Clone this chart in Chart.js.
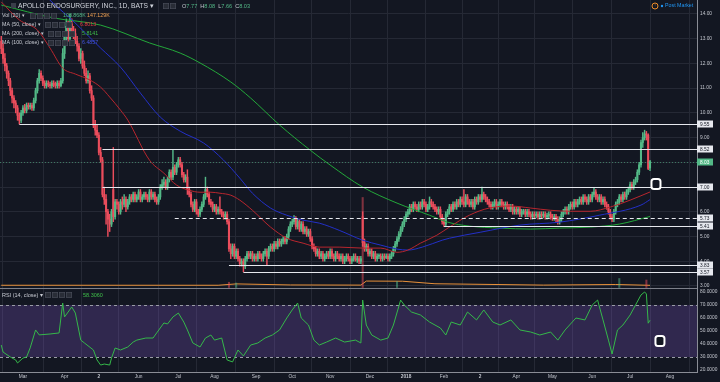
<!DOCTYPE html>
<html><head><meta charset="utf-8">
<script src="https://cdn.jsdelivr.net/npm/chart.js@4.4.1/dist/chart.umd.min.js"></script>
<style>html,body{margin:0;padding:0;background:#131722;}canvas{display:block;}</style>
</head><body>
<canvas id="c" width="720" height="382"></canvas>
<script>
// ---- daily candles (trading-day index 0 = mid Feb 2017) ----
const opens = [
12.9,12.6,12.2,11.9,11.6,11.3,10.9,10.6,10.4,10.2,
9.9,9.7,10.0,10.2,10.1,10.3,10.25,10.3,10.2,10.5,
10.9,11.3,11.6,11.4,11.2,11.1,11.2,11.15,11.1,11.2,
11.15,11.1,11.2,11.1,11.3,12.4,13.1,13.5,13.0,13.6,
13.3,13.2,12.9,12.7,12.2,12.4,11.9,11.6,11.3,11.5,
10.9,10.6,9.5,9.3,9.1,8.4,8.1,6.7,6.5,6.0,
5.7,5.5,6.9,5.8,6.4,6.3,6.0,6.4,6.3,6.5,
6.2,6.4,6.6,6.5,6.7,6.5,6.6,6.8,6.5,6.6,
6.7,6.6,6.5,6.8,6.6,6.7,6.5,6.4,6.6,7.0,
7.1,7.2,7.0,7.3,7.6,7.4,7.8,7.6,7.9,8.1,
7.9,7.5,7.3,7.4,6.9,6.7,6.3,6.1,6.4,6.0,
5.9,6.1,6.3,6.6,6.9,6.7,6.4,6.3,6.1,6.2,
6.0,6.1,6.0,5.9,5.8,5.9,5.6,4.5,4.3,4.6,
4.2,4.4,4.1,3.9,4.0,3.8,4.1,4.3,4.2,4.3,
4.1,4.2,4.1,4.3,4.2,4.1,4.3,4.4,4.2,4.5,
4.6,4.5,4.7,4.6,4.8,4.7,4.8,4.9,4.8,5.0,
5.3,5.5,5.6,5.7,5.4,5.6,5.3,5.5,5.2,5.3,
5.1,5.2,4.9,4.6,4.5,4.3,4.4,4.2,4.3,4.1,
4.2,4.3,4.2,4.4,4.2,4.1,4.3,4.2,4.1,4.2,
4.0,4.1,4.2,4.1,4.0,4.1,4.2,4.05,4.1,4.0,
5.8,4.75,4.5,4.6,4.3,4.4,4.2,4.3,4.1,4.2,
4.2,4.1,4.2,4.15,4.2,4.1,4.2,4.3,4.5,4.7,
4.9,5.1,5.3,5.5,5.7,5.9,6.0,6.2,6.1,6.3,
6.2,6.1,6.3,6.2,6.4,6.3,6.1,6.2,6.4,6.3,
6.2,6.1,6.0,6.1,5.8,5.6,5.5,5.9,6.0,6.2,
6.1,6.3,6.2,6.4,6.3,6.5,6.4,6.3,6.6,6.4,
6.3,6.4,6.2,6.5,6.4,6.6,6.5,6.7,6.6,6.5,
6.4,6.3,6.2,6.3,6.4,6.2,6.3,6.4,6.3,6.2,
6.3,6.2,6.1,6.2,6.0,6.1,6.0,6.1,5.9,6.0,
6.0,5.9,6.0,5.9,5.8,5.9,5.85,5.9,5.8,5.9,
5.85,5.9,5.8,5.85,5.9,5.8,5.75,5.8,5.7,5.6,
5.7,5.9,6.0,6.1,6.0,6.2,6.3,6.2,6.4,6.3,
6.4,6.5,6.4,6.6,6.5,6.4,6.6,6.5,6.7,6.8,
6.6,6.5,6.6,6.4,6.5,6.3,6.2,6.0,5.8,5.7,
6.0,6.3,6.4,6.6,6.5,6.7,6.6,6.8,6.9,7.1,
7.0,7.2,7.3,7.6,7.9,8.8,9.0,9.15,9.1,7.77];
const highs = [
13.1,12.8,12.4,12.0,11.7,11.4,11.0,10.7,10.5,10.3,
10.0,10.1,10.3,10.35,10.4,10.4,10.4,10.4,10.6,11.0,
11.4,11.75,11.7,11.5,11.3,11.3,11.3,11.25,11.3,11.3,
11.25,11.3,11.3,11.4,12.6,13.3,13.8,13.7,14.0,13.8,
13.5,13.4,13.1,12.8,12.6,12.5,12.1,11.8,11.7,11.6,
11.1,10.7,9.7,9.5,9.2,8.6,8.2,7.0,6.7,6.1,
5.9,6.1,8.6,6.5,6.5,6.4,6.5,6.6,6.7,6.6,
6.5,6.7,6.7,6.8,6.8,6.7,6.9,6.9,6.7,6.8,
6.8,6.7,6.9,6.9,6.8,6.8,6.6,6.7,7.1,7.3,
7.4,7.3,7.4,7.7,7.7,8.5,7.9,8.0,8.2,8.2,
8.0,7.6,7.5,7.7,7.0,6.8,6.4,6.5,6.5,6.1,
6.2,6.4,6.7,7.4,7.0,6.8,6.5,6.4,6.3,6.3,
6.2,6.6,6.1,6.0,6.0,6.0,5.7,4.7,4.7,4.7,
4.5,4.5,4.2,4.1,4.1,4.2,4.4,4.4,4.4,4.4,
4.3,4.3,4.4,4.4,4.3,4.4,4.5,4.5,4.6,4.7,
4.7,4.8,4.8,4.9,4.9,4.9,5.0,5.0,5.1,5.4,
5.6,5.7,5.85,5.8,5.7,5.7,5.6,5.6,5.4,5.4,
5.3,5.3,5.0,4.7,4.6,4.5,4.5,4.4,4.4,4.3,
4.4,4.4,4.5,4.5,4.3,4.4,4.4,4.3,4.3,4.3,
4.2,4.3,4.3,4.2,4.2,4.3,4.3,4.2,4.2,4.2,
6.0,4.9,4.7,4.7,4.5,4.5,4.4,4.4,4.3,4.3,
4.3,4.3,4.3,4.3,4.3,4.3,4.4,4.6,4.8,5.0,
5.2,5.4,5.6,5.8,6.0,6.1,6.3,6.3,6.4,6.4,
6.3,6.4,6.4,6.5,6.5,6.4,6.3,6.6,6.5,6.4,
6.3,6.2,6.2,6.2,5.9,5.7,6.0,6.1,6.3,6.3,
6.4,6.4,6.5,6.5,6.6,6.6,6.9,6.7,6.7,6.5,
6.5,6.5,6.6,6.6,6.7,6.7,7.0,6.8,6.7,6.6,
6.5,6.4,6.4,6.5,6.5,6.4,6.5,6.5,6.4,6.4,
6.4,6.3,6.3,6.3,6.2,6.2,6.2,6.2,6.1,6.1,
6.1,6.1,6.1,6.0,6.0,6.0,6.0,6.0,6.0,6.0,
6.0,6.0,5.95,6.0,6.0,5.9,5.9,5.9,5.8,5.8,
6.0,6.1,6.2,6.2,6.3,6.4,6.4,6.5,6.5,6.5,
6.6,6.6,6.7,6.7,6.6,6.7,6.7,6.8,6.95,6.9,
6.7,6.7,6.7,6.6,6.6,6.4,6.3,6.1,5.9,6.1,
6.4,6.5,6.7,6.7,6.8,6.8,6.9,7.0,7.2,7.2,
7.3,7.4,7.7,8.0,8.9,9.2,9.3,9.25,9.15,8.08];
const lows = [
12.4,12.0,11.7,11.4,11.1,10.7,10.4,10.2,10.0,9.7,
9.55,9.6,9.9,10.0,10.0,10.15,10.15,10.1,10.1,10.4,
10.8,11.2,11.3,11.1,11.0,11.0,11.05,11.0,11.0,11.05,
11.0,11.0,11.0,11.05,11.2,12.2,12.9,12.9,12.8,13.1,
13.0,12.8,12.5,12.1,12.0,11.8,11.5,11.2,11.2,10.8,
10.5,9.4,9.1,9.0,8.3,8.0,6.6,6.3,5.5,5.0,
5.2,5.4,5.6,5.7,6.1,5.9,5.9,6.1,6.2,6.0,
6.1,6.3,6.4,6.4,6.4,6.4,6.5,6.4,6.4,6.5,
6.5,6.4,6.4,6.5,6.5,6.4,6.3,6.3,6.5,6.9,
7.0,6.9,6.9,7.2,7.3,7.3,7.5,7.5,7.8,7.8,
7.4,7.2,7.2,6.7,6.6,6.2,6.0,6.0,5.9,5.8,
5.8,6.0,6.2,6.5,6.6,6.3,6.2,6.0,6.0,5.9,
5.9,5.9,5.8,5.7,5.7,5.5,4.4,4.1,4.2,4.1,
4.1,4.0,3.8,3.8,3.57,3.7,4.0,4.1,4.1,4.0,
4.0,4.0,4.0,4.1,4.0,4.0,4.2,3.83,4.1,4.4,
4.4,4.4,4.5,4.5,4.6,4.6,4.7,4.7,4.7,4.9,
5.2,5.4,5.5,5.3,5.3,5.2,5.2,5.1,5.1,5.0,
5.0,4.8,4.5,4.4,4.2,4.2,4.1,4.1,4.0,4.0,
4.1,4.1,4.1,4.1,4.0,4.0,4.1,4.0,4.0,3.9,
3.9,4.0,4.0,3.9,3.9,4.0,4.0,3.95,3.9,3.9,
4.6,4.4,4.4,4.2,4.2,4.1,4.1,4.0,4.0,4.1,
4.0,4.0,4.05,4.1,4.0,4.0,4.1,4.2,4.4,4.6,
4.8,5.0,5.2,5.4,5.6,5.8,5.9,6.0,6.0,6.1,
6.0,6.0,6.1,6.1,6.2,6.0,6.0,6.1,6.2,6.1,
6.0,5.9,5.9,5.7,5.5,5.4,5.4,5.8,5.9,6.0,
6.0,6.1,6.1,6.2,6.2,6.3,6.2,6.2,6.3,6.2,
6.2,6.1,6.1,6.3,6.3,6.4,6.4,6.5,6.4,6.3,
6.2,6.1,6.1,6.2,6.1,6.1,6.2,6.2,6.1,6.1,
6.1,6.0,6.0,5.9,5.9,5.9,5.9,5.8,5.8,5.9,
5.8,5.8,5.8,5.7,5.7,5.75,5.75,5.7,5.7,5.75,
5.75,5.7,5.7,5.75,5.7,5.65,5.65,5.6,5.5,5.5,
5.6,5.8,5.9,5.9,5.9,6.1,6.1,6.1,6.2,6.2,
6.3,6.3,6.3,6.4,6.3,6.3,6.4,6.4,6.6,6.5,
6.4,6.4,6.3,6.3,6.2,6.1,5.9,5.7,5.6,5.6,
5.9,6.2,6.3,6.4,6.4,6.5,6.5,6.7,6.8,6.9,
6.9,7.1,7.2,7.5,7.8,8.6,8.9,8.9,7.7,7.66];
const closes = [
12.6,12.2,11.9,11.6,11.3,10.9,10.6,10.4,10.2,9.9,
9.7,10.0,10.2,10.1,10.3,10.25,10.3,10.2,10.5,10.9,
11.3,11.6,11.4,11.2,11.1,11.2,11.15,11.1,11.2,11.15,
11.1,11.2,11.1,11.3,12.4,13.1,13.5,13.0,13.6,13.3,
13.2,12.9,12.7,12.2,12.4,11.9,11.6,11.3,11.5,10.9,
10.6,9.5,9.3,9.1,8.4,8.1,6.7,6.5,6.0,5.7,
5.5,6.0,5.8,6.4,6.3,6.0,6.4,6.3,6.5,6.2,
6.4,6.6,6.5,6.7,6.5,6.6,6.8,6.5,6.6,6.7,
6.6,6.5,6.8,6.6,6.7,6.5,6.4,6.6,7.0,7.1,
7.2,7.0,7.3,7.6,7.4,7.8,7.6,7.9,8.1,7.9,
7.5,7.3,7.4,6.9,6.7,6.3,6.1,6.4,6.0,5.9,
6.1,6.3,6.6,6.9,6.7,6.4,6.3,6.1,6.2,6.0,
6.1,6.0,5.9,5.8,5.9,5.6,4.5,4.3,4.6,4.2,
4.4,4.1,3.9,4.0,3.8,4.1,4.3,4.2,4.3,4.1,
4.2,4.1,4.3,4.2,4.1,4.3,4.4,4.2,4.5,4.6,
4.5,4.7,4.6,4.8,4.7,4.8,4.9,4.8,5.0,5.3,
5.5,5.6,5.7,5.4,5.6,5.3,5.5,5.2,5.3,5.1,
5.2,4.9,4.6,4.5,4.3,4.4,4.2,4.3,4.1,4.2,
4.3,4.2,4.4,4.2,4.1,4.3,4.2,4.1,4.2,4.0,
4.1,4.2,4.1,4.0,4.1,4.2,4.05,4.1,4.0,4.1,
4.75,4.5,4.6,4.3,4.4,4.2,4.3,4.1,4.2,4.2,
4.1,4.2,4.15,4.2,4.1,4.2,4.3,4.5,4.7,4.9,
5.1,5.3,5.5,5.7,5.9,6.0,6.2,6.1,6.3,6.2,
6.1,6.3,6.2,6.4,6.3,6.1,6.2,6.4,6.3,6.2,
6.1,6.0,6.1,5.8,5.6,5.5,5.9,6.0,6.2,6.1,
6.3,6.2,6.4,6.3,6.5,6.4,6.3,6.6,6.4,6.3,
6.4,6.2,6.5,6.4,6.6,6.5,6.7,6.6,6.5,6.4,
6.3,6.2,6.3,6.4,6.2,6.3,6.4,6.3,6.2,6.3,
6.2,6.1,6.2,6.0,6.1,6.0,6.1,5.9,6.0,6.0,
5.9,6.0,5.9,5.8,5.9,5.85,5.9,5.8,5.9,5.85,
5.9,5.8,5.85,5.9,5.8,5.75,5.8,5.7,5.6,5.7,
5.9,6.0,6.1,6.0,6.2,6.3,6.2,6.4,6.3,6.4,
6.5,6.4,6.6,6.5,6.4,6.6,6.5,6.7,6.8,6.6,
6.5,6.6,6.4,6.5,6.3,6.2,6.0,5.8,5.7,6.0,
6.3,6.4,6.6,6.5,6.7,6.6,6.8,6.9,7.1,7.0,
7.2,7.3,7.6,7.9,8.8,9.0,9.15,9.1,7.75,8.03];

// ---- moving averages: [day index, value] ----
const ma50 = [[0,14.49],[10,13.76],[20,13.35],[27,12.62],[34,11.81],[41,11.57],[49,11.33],[55,11.04],[60,10.64],[66,10.11],[70,9.71],[82,8.09],[90,7.56],[97,7.08],[104,6.87],[110,6.79],[116,6.79],[121,6.75],[127,6.67],[132,6.47],[139,6.06],[149,5.38],[158,4.93],[167,4.73],[176,4.57],[187,4.57],[200,4.53],[210,4.53],[219,4.36],[225,4.45],[232,4.73],[241,5.05],[248,5.38],[259,5.86],[270,6.15],[282,6.23],[293,6.15],[304,6.06],[315,6.02],[326,6.02],[337,6.19],[348,6.47],[359,6.80]];
const ma100 = [[24,14.77],[31,14.28],[38,13.84],[46,13.27],[55,12.62],[66,11.85],[77,10.80],[88,9.83],[99,9.26],[112,8.78],[123,8.09],[132,7.36],[139,6.75],[149,6.15],[158,5.86],[167,5.66],[176,5.54],[187,5.25],[200,4.85],[210,4.65],[219,4.49],[225,4.45],[233,4.57],[244,4.85],[248,4.93],[265,5.17],[287,5.46],[309,5.58],[331,5.86],[354,6.27],[359,6.49]];
const ma200 = [[0,14.36],[29,13.84],[55,13.55],[82,12.83],[99,12.42],[110,12.02],[127,11.25],[138,10.6],[154,9.51],[171,8.49],[182,7.89],[200,7.0],[219,6.35],[237,5.86],[247,5.58],[259,5.42],[276,5.34],[293,5.30],[309,5.34],[326,5.38],[342,5.50],[359,5.81]];

// ---- volume (K shares): notable days, and its 20-day MA ----
const volDays = [126,130,200,219,342,357];
const volK = [350,300,6000,400,600,500];
const volMA = [[0,150],[120,150],[130,240],[160,170],[199,160],[202,430],[222,420],[240,250],[300,160],[340,200],[359,147]];

// ---- RSI(14) ----
const rsi = [[0,39.2],[1,33.8],[5,30],[8,27.7],[9,25.4],[12,29.2],[14,30],[16,37],[19,50.8],[21,47],[27,47.7],[32,48.5],[34,71.5],[35,60.8],[37,64.6],[39,68.5],[41,63.8],[44,43],[46,40.8],[51,35.4],[53,27.7],[55,23.8],[57,24.6],[60,23.8],[61,29.2],[63,36.9],[66,35.4],[70,37.7],[73,41.5],[75,43],[80,44.6],[84,44.6],[86,48.5],[90,56.2],[92,55.4],[95,60.8],[98,63.8],[101,56.9],[103,50.8],[106,40.8],[110,37.7],[113,44.6],[116,46.9],[118,43],[122,44.6],[125,27.7],[128,26.2],[131,35.4],[134,30.8],[138,39.2],[142,40.8],[146,44.6],[150,46.9],[154,50.8],[158,60],[161,66.2],[164,71.5],[166,60],[170,54.6],[173,43],[176,39.2],[180,41.5],[185,44.6],[190,41.5],[196,43],[199,40.8],[200,73.8],[202,54.6],[205,46.9],[210,43],[214,44.6],[217,54.6],[221,73.8],[223,70],[227,64.6],[232,62.3],[237,56.9],[243,52.3],[246,46.9],[249,56.9],[254,54.6],[258,64.6],[263,58.5],[267,66.2],[272,56.9],[276,54.6],[282,58.5],[287,50.8],[293,49.2],[298,46.9],[304,49.2],[308,43],[312,50.8],[318,60],[323,58.5],[327,70],[330,73.8],[333,58.5],[336,43],[338,32.3],[341,50.8],[344,54.6],[348,62.3],[351,70],[354,77.7],[356,80],[357,78.5],[358,56],[359,58.3]];

// ---- x axis month ticks ----
const tickIdx = [12,35,54,76,98,118,141,161,182,204,224,245,265,285,305,327,348,370];
const tickLabels = ["Mar","Apr","2","Jun","Jul","Aug","Sep","Oct","Nov","Dec","2018","Feb","2","Apr","May","Jun","Jul","Aug"];

// ---- drawn horizontal levels: value, start day ----
const levelVals = [9.55, 8.52, 7.00, 5.73, 5.41, 3.83, 3.57];
const levelFrom = [10, 56, 56, 96, 245, 126, 134];
const lastPrice = 8.03;

const FONT = "'Liberation Sans', Arial, sans-serif";
const UP = '#53b987', DN = '#eb4d5c', BG = '#131722', GRID = '#252935', TXT = '#c3c6ce';

const up = closes.map((c, i) => c >= opens[i]);
const candleCol = up.map(u => u ? UP : DN);
const bodies = closes.map((c, i) => ({x: i, y: [opens[i], c]}));
const wicks = closes.map((c, i) => ({x: i, y: [lows[i], highs[i]]}));
const pts = a => a.map(([x, y]) => ({x, y}));

const bgPlugin = {
  id: 'bg',
  beforeDraw(ch) { const c = ch.ctx; c.save(); c.fillStyle = BG; c.fillRect(0, 0, ch.width, ch.height); c.restore(); }
};

const rsiBand = {
  id: 'rsiBand',
  beforeDatasetsDraw(ch) {
    const c = ch.ctx, s = ch.scales.yRsi, x = ch.scales.x;
    const y70 = s.getPixelForValue(70), y30 = s.getPixelForValue(30);
    c.save();
    c.fillStyle = 'rgba(126,87,194,0.28)';
    c.fillRect(x.left, y70, x.right - x.left, y30 - y70);
    c.strokeStyle = '#9a9da6'; c.lineWidth = 1; c.setLineDash([3, 3]);
    [y70, y30].forEach(y => { c.beginPath(); c.moveTo(x.left, Math.round(y) + 0.5); c.lineTo(x.right, Math.round(y) + 0.5); c.stroke(); });
    c.restore();
  }
};

const levels = {
  id: 'levels',
  afterDatasetsDraw(ch) {
    const c = ch.ctx, x = ch.scales.x, y = ch.scales.y, r = ch.scales.yRsi;
    c.save();
    const yl = Math.round(y.getPixelForValue(lastPrice)) + 0.5;
    c.strokeStyle = 'rgba(83,185,135,0.55)'; c.lineWidth = 1; c.setLineDash([1, 2]);
    c.beginPath(); c.moveTo(x.left, yl); c.lineTo(x.right, yl); c.stroke();
    c.strokeStyle = '#e6e8ee'; c.lineWidth = 1.2;
    levelVals.forEach((v, k) => {
      const py = Math.round(y.getPixelForValue(v)) + 0.5;
      c.setLineDash(v === 5.73 ? [4, 3] : []);
      c.beginPath(); c.moveTo(x.getPixelForValue(levelFrom[k]), py); c.lineTo(x.right, py); c.stroke();
    });
    c.setLineDash([]);
    c.strokeStyle = '#7d808a'; c.lineWidth = 1;
    c.beginPath(); c.moveTo(0, y.bottom + 0.5); c.lineTo(x.right, y.bottom + 0.5); c.stroke();
    const sq = (px, py) => {
      c.beginPath();
      if (c.roundRect) c.roundRect(px - 4.5, py - 5, 9, 10, 2.5); else c.rect(px - 4.5, py - 5, 9, 10);
      c.fillStyle = BG; c.fill(); c.strokeStyle = '#ffffff'; c.lineWidth = 2; c.stroke();
    };
    sq(x.getPixelForValue(362.3), y.getPixelForValue(7.12));
    sq(x.getPixelForValue(364.5), r.getPixelForValue(42.3));
    c.restore();
  }
};

const overlay = {
  id: 'overlay',
  afterDraw(ch) {
    const c = ch.ctx, y = ch.scales.y;
    c.save();
    c.textBaseline = 'middle';
    c.font = `4.8px ${FONT}`;
    const box = (v, bg, fg) => {
      const py = Math.round(y.getPixelForValue(v));
      c.fillStyle = bg; c.fillRect(697, py - 3.5, 16, 7);
      c.fillStyle = fg; c.textAlign = 'left'; c.fillText(v.toFixed(2), 700, py + 0.3);
    };
    levelVals.forEach(v => box(v, '#e6e8ee', '#131722'));
    box(lastPrice, UP, '#ffffff');

    const btns = (x0, yy, n) => {
      for (let k = 0; k < n; k++) {
        c.fillStyle = 'rgba(42,46,57,0.95)'; c.fillRect(x0 + k * 7, yy - 3, 6, 6);
        c.strokeStyle = '#4a4e5a'; c.lineWidth = 0.6; c.strokeRect(x0 + k * 7 + 0.3, yy - 2.7, 5.4, 5.4);
      }
    };
    c.fillStyle = '#3a3e4a'; c.fillRect(11, 3, 5, 5);
    c.font = `6.7px ${FONT}`; c.fillStyle = '#d1d4dc'; c.textAlign = 'left';
    c.fillText('APOLLO ENDOSURGERY, INC., 1D, BATS ▾', 18, 6);
    btns(163, 6, 2);
    c.font = `5.6px ${FONT}`;
    let xx = 182;
    [['O', '7.77'], ['H', '8.08'], ['L', '7.66'], ['C', '8.03']].forEach(([k, v]) => {
      c.fillStyle = '#c3c6ce'; c.fillText(k, xx, 6); xx += c.measureText(k).width;
      c.fillStyle = UP; c.fillText(v, xx, 6); xx += c.measureText(v).width + 3;
    });
    c.font = `5.3px ${FONT}`;
    const row = (label, yy, bx, vals) => {
      c.fillStyle = '#c8cbd3'; c.fillText(label, 2, yy);
      btns(bx, yy, 4);
      vals.forEach(([t, col, vx]) => { c.fillStyle = col; c.fillText(t, vx, yy); });
    };
    row('Vol (20) ▾', 16, 30, [['103.868K', UP, 63], ['147.129K', '#f0a050', 87]]);
    row('MA (50, close) ▾', 25, 45, [['6.8013', '#e53940', 80]]);
    row('MA (200, close) ▾', 34, 48, [['5.8141', '#3fbf4a', 82]]);
    row('MA (100, close) ▾', 43, 48, [['6.4857', '#4455dd', 82]]);
    c.font = `5.5px ${FONT}`;
    row('RSI (14, close) ▾', 295, 45, [['58.3060', '#3fbf4a', 83]]);
    c.strokeStyle = '#f08c28'; c.lineWidth = 1;
    c.beginPath(); c.arc(655, 6, 3, 0, Math.PI * 2); c.stroke();
    c.fillStyle = '#f08c28'; c.font = `4px ${FONT}`; c.textAlign = 'center'; c.fillText('!', 655, 6.2);
    c.fillStyle = '#2196f3'; c.beginPath(); c.arc(662, 6, 1.2, 0, Math.PI * 2); c.fill();
    c.textAlign = 'left'; c.font = `5.3px ${FONT}`; c.fillText('Post Market', 665, 6);
    c.restore();
  }
};

const fitY = w => s => { s.width = w; s.paddingTop = 0; s.paddingBottom = 0; };

new Chart(document.getElementById('c'), {
  type: 'bar',
  data: {
    datasets: [
      {type: 'line', data: pts(ma50), yAxisID: 'y', borderColor: '#b8262e', borderWidth: 1, pointRadius: 0, cubicInterpolationMode: 'monotone', order: 0},
      {type: 'line', data: pts(ma100), yAxisID: 'y', borderColor: '#2330c8', borderWidth: 1, pointRadius: 0, cubicInterpolationMode: 'monotone', order: 0},
      {type: 'line', data: pts(ma200), yAxisID: 'y', borderColor: '#23a83a', borderWidth: 1, pointRadius: 0, cubicInterpolationMode: 'monotone', order: 0},
      {data: bodies, yAxisID: 'y', backgroundColor: candleCol, barThickness: 1.4, minBarLength: 1, grouped: false, order: 1},
      {data: wicks, yAxisID: 'y', backgroundColor: candleCol, barThickness: 0.8, grouped: false, order: 2},
      {data: volDays.map((d, k) => ({x: d, y: volK[k]})), yAxisID: 'yVol', backgroundColor: volDays.map(d => up[d] ? 'rgba(83,185,135,0.5)' : 'rgba(235,77,92,0.5)'), barThickness: 1.4, grouped: false, order: 3},
      {type: 'line', data: pts(volMA), yAxisID: 'yVol', borderColor: '#e8913a', borderWidth: 1, pointRadius: 0, order: 3},
      {type: 'line', data: pts(rsi), yAxisID: 'yRsi', borderColor: '#35b84a', borderWidth: 1, pointRadius: 0, order: 0}
    ]
  },
  options: {
    responsive: false, animation: false, devicePixelRatio: 1, events: [],
    layout: {padding: 0},
    plugins: {legend: {display: false}, tooltip: {enabled: false}},
    scales: {
      x: {
        type: 'linear', position: 'bottom', min: -0.7, max: 385, offset: false,
        grid: {color: GRID, drawTicks: false},
        border: {display: true, color: '#8a8d96'},
        afterBuildTicks: s => { s.ticks = tickIdx.map(v => ({value: v})); },
        afterFit: s => { s.height = 10; s.paddingLeft = 0; s.paddingRight = 0; },
        ticks: {
          autoSkip: false, maxRotation: 0, padding: 2, color: TXT,
          font: ctx => ({family: FONT, size: 4.8, weight: (ctx.tick && (ctx.tick.label === '2018' || ctx.tick.label === '2')) ? 'bold' : 'normal'}),
          callback: (v, i) => tickLabels[i]
        }
      },
      y: {
        position: 'right', stack: 'panes', stackWeight: 288, min: 2.916, max: 14.566,
        grid: {color: GRID, drawTicks: false},
        border: {display: true, color: '#8a8d96'},
        afterFit: fitY(23),
        ticks: {autoSkip: false, stepSize: 1, includeBounds: false, padding: 3, color: TXT, font: {family: FONT, size: 4.8}, callback: v => v.toFixed(2)}
      },
      yRsi: {
        position: 'right', stack: 'panes', stackWeight: 84, min: 18.46, max: 83.08,
        grid: {display: false, drawTicks: false},
        border: {display: true, color: '#8a8d96'},
        afterFit: fitY(23),
        ticks: {autoSkip: false, stepSize: 10, includeBounds: false, padding: 3, color: TXT, font: {family: FONT, size: 4.8}, callback: v => v.toFixed(4)}
      },
      yVol: {display: false, position: 'right', min: -5633, max: 19167}
    }
  },
  plugins: [bgPlugin, rsiBand, levels, overlay]
});
</script>
</body></html>
